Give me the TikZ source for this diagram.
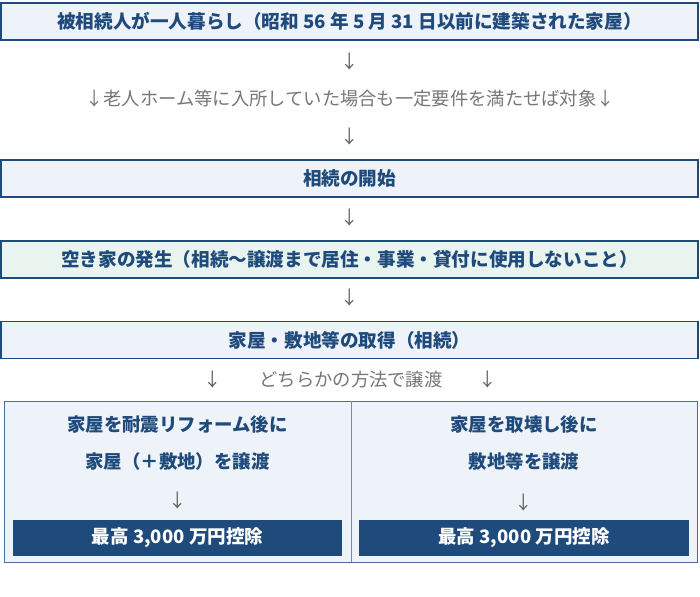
\documentclass[tikz,border=0pt]{standalone}
\usepackage{fontspec}
\setmainfont{Noto Sans CJK JP}
\definecolor{navy}{HTML}{1F4A7C}
\definecolor{pale}{HTML}{EEF3FA}
\definecolor{palegreen}{HTML}{E9F4EF}
\definecolor{greytext}{HTML}{767676}
\definecolor{arrowgrey}{HTML}{606060}
\definecolor{panelline}{HTML}{4F6F96}
\begin{document}
\begin{tikzpicture}[x=1pt,y=-1pt,
  stage/.style={draw=navy, line width=1.6pt, fill=pale, minimum width=697pt, minimum height=37pt, inner sep=0pt, font=\fontsize{18.6}{21}\selectfont\bfseries, text=navy},
  note/.style={font=\fontsize{18.3}{21}\selectfont, text=greytext, inner sep=0pt},
  darr/.style={font=\fontsize{18.5}{21}\selectfont, text=arrowgrey, inner sep=0pt},
  result/.style={fill=navy, minimum width=329pt, minimum height=36pt, inner sep=0pt, text=white, font=\fontsize{18.5}{21}\selectfont\bfseries},
  sub/.style={text=navy, font=\fontsize{18.4}{21}\selectfont\bfseries, inner sep=0pt},
  panel/.style={draw=panelline, line width=0.9pt, fill=pale, minimum width=693pt, minimum height=161pt, inner sep=0pt}
]
\useasboundingbox (0,0) rectangle (700,596);
\node[stage] (b1) at (349.5,21.5) {被相続人が一人暮らし（昭和 56 年 5 月 31 日以前に建築された家屋）};
\node[darr] (a1) at (350,62) {↓};
\node[note] (n1) at (350,99) {↓老人ホーム等に入所していた場合も一定要件を満たせば対象↓};
\node[darr] (a2) at (350,137) {↓};
\node[stage] (b2) at (349.5,178.5) {相続の開始};
\node[darr] (a3) at (350,218) {↓};
\node[stage, fill=palegreen] (b3) at (349.5,259.5) {空き家の発生（相続～譲渡まで居住・事業・貸付に使用しないこと）};
\node[darr] (a4) at (350,298) {↓};
\node[stage] (b4) at (349.5,340) {家屋・敷地等の取得（相続）};
\node[darr] (a5) at (213,380) {↓};
\node[note] (n2) at (351,380) {どちらかの方法で譲渡};
\node[darr] (a6) at (488,380) {↓};
\node[panel] (p) at (350.5,481.5) {};
\coordinate (dtop) at (351,401);
\coordinate (dbot) at (351,562);
\draw[panelline!80, line width=0.9pt] (dtop) -- (dbot);
\node[sub] (l1) at (177.5,425) {家屋を耐震リフォーム後に};
\node[sub] (l2) at (177.5,461) {家屋（＋敷地）を譲渡};
\node[darr] (la) at (177.5,501) {↓};
\node[result] (lr) at (177.5,538) {最高 3,000 万円控除};
\node[sub] (r1) at (524,425) {家屋を取壊し後に};
\node[sub] (r2) at (524,461) {敷地等を譲渡};
\node[darr] (ra) at (524,503) {↓};
\node[result, minimum width=330pt] (rr) at (524,538) {最高 3,000 万円控除};
\end{tikzpicture}
\end{document}
